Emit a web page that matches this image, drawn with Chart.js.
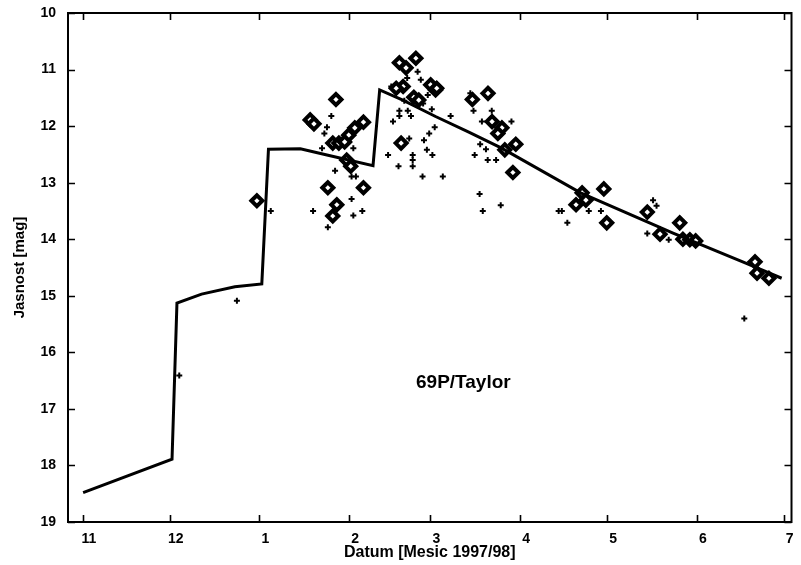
<!DOCTYPE html>
<html><head><meta charset="utf-8">
<script src="https://cdn.jsdelivr.net/npm/chart.js@4/dist/chart.umd.min.js"></script>
<style>html,body{margin:0;padding:0;background:#fff}#wrap{width:801px;height:565px}</style>
</head><body><div id="wrap"><canvas id="c"></canvas></div>
<script>
// Days counted from 1997-11-01
const monthTickDays = [0, 30, 61, 92, 120, 151, 181, 212, 242];
const monthTickLabels = ['11', '12', '1', '2', '3', '4', '5', '6', '7'];
const magTicks = [10, 11, 12, 13, 14, 15, 16, 17, 18, 19];

// Model light curve
const modelDays = [0.1, 30.8, 32.5, 41.0, 52.5, 61.8, 64.1, 75.1, 84.3, 100.2, 102.5, 110.5, 121.8, 133.1, 144.6, 171.9, 203.8, 228.7, 241.3];
const modelMags = [18.48, 17.89, 15.13, 14.97, 14.84, 14.79, 12.41, 12.40, 12.51, 12.70, 11.36, 11.54, 11.83, 12.10, 12.39, 13.18, 13.89, 14.42, 14.69];

// Observations (crosses)
const crossDays = [33.3, 53.2, 64.9, 79.5, 85.8, 84.3, 83.4, 82.6, 93.4, 87.1, 92.8, 94.3, 92.8, 93.4, 96.5, 84.6,
  106.5, 109.3, 112.2, 107.1, 109.3, 113.3, 105.4, 112.7, 113.9, 113.9, 113.9, 109.0, 117.3, 124.3, 117.8, 120.7, 118.8, 119.6, 121.5, 127.0,
  133.8, 134.9, 141.2, 137.8, 148.0, 137.2, 139.2, 135.3, 139.8, 142.7, 137.0, 138.1, 144.3,
  164.3, 165.4, 167.3, 174.7, 178.9, 196.9, 198.1, 194.9, 202.3, 228.4,
  115.6, 116.7, 119.1, 112.0, 117.5, 120.5, 111.0];
const crossMags = [16.41, 15.09, 13.50, 13.50, 11.82, 12.02, 12.13, 12.39, 12.39, 12.79, 12.89, 12.89, 13.29, 13.58, 13.50, 13.79,
  11.30, 11.73, 11.73, 11.92, 11.82, 11.82, 12.51, 12.22, 12.51, 12.60, 12.71, 12.71, 12.89, 12.89, 12.25, 12.51, 12.42, 12.13, 12.02, 11.82,
  11.42, 11.73, 11.73, 11.92, 11.92, 12.32, 12.41, 12.51, 12.60, 12.60, 13.20, 13.50, 13.40,
  13.50, 13.50, 13.71, 13.50, 13.50, 13.31, 13.41, 13.90, 14.01, 15.40,
  11.04, 11.18, 11.45, 11.15, 11.60, 11.70, 11.55];

// Observations (diamonds)
const diamondDays = [60.1, 78.5, 79.8, 87.4, 96.9, 93.9, 91.8, 86.3, 88.4, 90.4, 91.1, 92.5, 84.6, 96.9, 87.7, 86.3,
  109.3, 111.6, 115.0, 110.6, 108.2, 120.1, 121.8, 109.9, 114.3, 116.0, 122.2,
  134.5, 139.9, 141.3, 144.7, 143.3, 145.7, 149.5, 148.5,
  172.4, 179.9, 170.3, 173.7, 180.9, 194.9, 199.3, 206.1, 207.2, 209.6, 211.6, 232.1, 232.8, 236.9];
const diamondMags = [13.32, 11.89, 11.96, 11.53, 11.93, 12.03, 12.16, 12.30, 12.30, 12.28, 12.60, 12.71, 13.09, 13.09, 13.39, 13.59,
  10.88, 10.97, 10.80, 11.30, 11.33, 11.27, 11.36, 12.30, 11.49, 11.54, 11.33,
  11.53, 11.42, 11.92, 12.03, 12.13, 12.42, 12.32, 12.82,
  13.18, 13.11, 13.39, 13.31, 13.71, 13.52, 13.91, 13.71, 14.00, 14.01, 14.03, 14.40, 14.60, 14.69];

const cometName = '69P/Taylor';
const xTitle = 'Datum [Mesic 1997/98]';
const yTitle = 'Jasnost [mag]';

const zip = (a, b) => a.map((v, i) => ({x: v, y: b[i]}));

const framePlugin = {
  id: 'frame',
  afterDraw(chart) {
    const {ctx, chartArea: a, scales} = chart;
    ctx.save();
    ctx.strokeStyle = '#000';
    ctx.lineWidth = 2;
    ctx.strokeRect(a.left, a.top, a.right - a.left, a.bottom - a.top);
    ctx.lineWidth = 1.6;
    const tl = 7;
    ctx.beginPath();
    monthTickDays.forEach(d => {
      const px = Math.round(scales.x.getPixelForValue(d)) + 0.5;
      ctx.moveTo(px, a.bottom); ctx.lineTo(px, a.bottom - tl);
      ctx.moveTo(px, a.top); ctx.lineTo(px, a.top + tl);
    });
    magTicks.forEach(m => {
      const py = Math.round(scales.y.getPixelForValue(m)) + 0.5;
      ctx.moveTo(a.left, py); ctx.lineTo(a.left + tl, py);
      ctx.moveTo(a.right, py); ctx.lineTo(a.right - tl, py);
    });
    ctx.stroke();
    ctx.fillStyle = '#000';
    ctx.font = 'bold 19px "Liberation Sans", Arial, sans-serif';
    ctx.textAlign = 'center';
    ctx.textBaseline = 'middle';
    ctx.fillText(cometName, scales.x.getPixelForValue(131.4), scales.y.getPixelForValue(16.54));
    ctx.restore();
  }
};

const font = {family: '"Liberation Sans", Arial, sans-serif', weight: 'bold', size: 14};

new Chart(document.getElementById('c'), {
  type: 'scatter',
  data: {
    datasets: [
      {
        label: 'model', data: zip(modelDays, modelMags), showLine: true,
        borderColor: '#000', borderWidth: 3, pointRadius: 0, fill: false, tension: 0
      },
      {
        label: 'cross', data: zip(crossDays, crossMags), pointStyle: 'cross',
        pointRadius: 3, borderColor: '#000', pointBorderWidth: 2, backgroundColor: '#000'
      },
      {
        label: 'diamond', data: zip(diamondDays, diamondMags), pointStyle: 'rectRot',
        pointRadius: 5.5, borderColor: '#000', pointBorderWidth: 4, backgroundColor: '#fff'
      }
    ]
  },
  options: {
    responsive: true, maintainAspectRatio: false, animation: false, devicePixelRatio: 1,
    layout: {padding: {top: 13, right: 1, left: 0, bottom: 0}},
    plugins: {legend: {display: false}, tooltip: {enabled: false}},
    scales: {
      x: {
        type: 'linear', min: -5.12, max: 244.7,
        afterBuildTicks: s => { s.ticks = monthTickDays.map(v => ({value: v})); },
        afterFit: s => { s.height = 43; s.paddingLeft = 0; s.paddingRight = 0; },
        ticks: {
          autoSkip: false, maxRotation: 0, padding: 9, labelOffset: 6, color: '#000', font,
          callback: v => { const i = monthTickDays.indexOf(v); return i >= 0 ? monthTickLabels[i] : ''; }
        },
        grid: {display: false, drawTicks: false},
        border: {display: false},
        title: {display: true, text: xTitle, color: '#000', font: {...font, size: 16}, padding: {top: 0, bottom: 3}}
      },
      y: {
        min: 10, max: 19, reverse: true,
        afterBuildTicks: s => { s.ticks = magTicks.map(v => ({value: v})); },
        afterFit: s => { s.width = 68; s.paddingTop = 0; s.paddingBottom = 0; },
        ticks: {padding: 12, color: '#000', font},
        grid: {display: false, drawTicks: false},
        border: {display: false},
        title: {display: true, text: yTitle, color: '#000', font: {...font, size: 15}, padding: {top: 11, bottom: 0}}
      }
    }
  },
  plugins: [framePlugin]
});
</script>
</body></html>
